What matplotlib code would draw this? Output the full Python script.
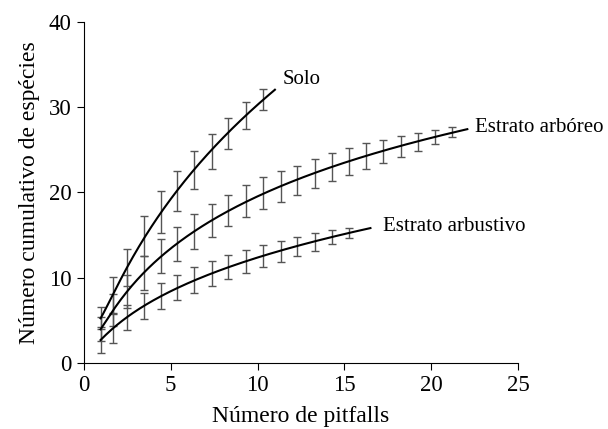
import numpy as np
import matplotlib.pyplot as plt

plt.rcParams['font.family'] = ['Liberation Serif', 'DejaVu Serif']

# pitfall positions of the error bars
x_pos = [0.96, 1.69, 2.49, 3.47, 4.42, 5.37, 6.35, 7.35, 8.3, 9.31, 10.29,
         11.33, 12.29, 13.3, 14.27, 15.28, 16.24, 17.24, 18.24, 19.22, 20.22, 21.18]

# Solo
solo_mean = [5.3, 7.9, 11.2, 14.9, 17.7, 20.2, 22.6, 24.8, 26.9, 29.0, 30.9]
solo_err = [1.3, 2.2, 2.2, 2.3, 2.45, 2.35, 2.25, 2.1, 1.85, 1.6, 1.2]
solo_end = (11.0, 32.1)

# Estrato arbóreo
arbo_mean = [3.95, 6.2, 8.4, 10.5, 12.5, 14.0, 15.4, 16.7, 17.9, 19.0, 19.9,
             20.7, 21.4, 22.2, 22.95, 23.65, 24.3, 24.85, 25.4, 25.95, 26.5, 27.05]
arbo_err = [1.4, 1.9, 1.9, 2.0, 2.0, 2.0, 2.05, 1.95, 1.85, 1.9, 1.85,
            1.85, 1.75, 1.7, 1.65, 1.55, 1.5, 1.35, 1.25, 1.05, 0.8, 0.6]
arbo_end = (22.08, 27.5)

# Estrato arbustivo
arbu_mean = [2.7, 4.1, 5.3, 6.65, 7.85, 8.85, 9.75, 10.5, 11.25, 11.9, 12.5,
             13.1, 13.65, 14.2, 14.75, 15.25]
arbu_err = [1.55, 1.8, 1.45, 1.55, 1.55, 1.5, 1.5, 1.5, 1.45, 1.35, 1.3,
            1.25, 1.1, 1.05, 0.8, 0.55]
arbu_end = (16.5, 15.95)

series = [
    ('Solo', solo_mean, solo_err, solo_end, (11.45, 33.2)),
    ('Estrato arbóreo', arbo_mean, arbo_err, arbo_end, (22.55, 27.6)),
    ('Estrato arbustivo', arbu_mean, arbu_err, arbu_end, (17.2, 16.0)),
]

fig = plt.figure(figsize=(6.08, 4.29), dpi=100)
ax = fig.add_axes([0.138, 0.154, 0.714, 0.795])

for name, mean, err, end, lab in series:
    xs = np.array(x_pos[:len(mean)])
    ax.errorbar(xs, mean, yerr=err, fmt='none', ecolor='#555555',
                elinewidth=1.0, capsize=3, capthick=1.0, zorder=2)
    # smooth accumulation curve through the means
    fx = np.append(xs, end[0])
    fy = np.append(mean, end[1])
    coef = np.polyfit(np.log(fx), fy, 3)
    xx = np.linspace(fx[0], fx[-1], 200)
    ax.plot(xx, np.polyval(coef, np.log(xx)), color='black', lw=1.5, zorder=3)
    ax.text(lab[0], lab[1], name, fontsize=15, ha='left', va='center')

ax.set_xlim(0, 25)
ax.set_ylim(0, 40)
ax.set_xticks([0, 5, 10, 15, 20, 25])
ax.set_yticks([0, 10, 20, 30, 40])
ax.spines['top'].set_visible(False)
ax.spines['right'].set_visible(False)
ax.tick_params(direction='out', length=5, labelsize=16.5, pad=4)
ax.set_xlabel('Número de pitfalls', fontsize=17, labelpad=7)
ax.set_ylabel('Número cumulativo de espécies', fontsize=17, labelpad=6)

fig.savefig('out.png', dpi=100)
